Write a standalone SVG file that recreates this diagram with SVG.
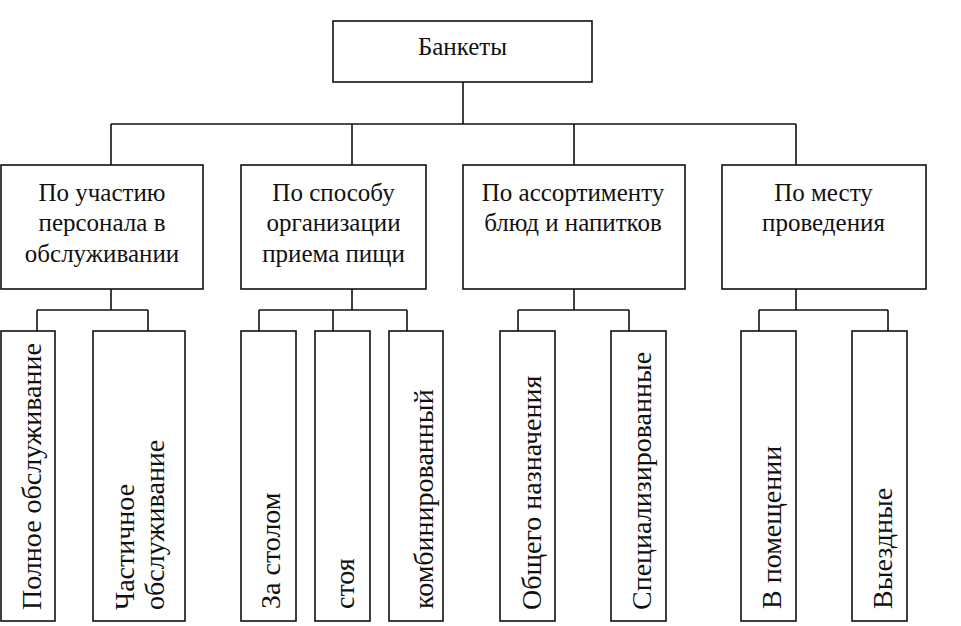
<svg xmlns="http://www.w3.org/2000/svg" width="961" height="626" viewBox="0 0 961 626">
<style>
.box{fill:#fff;stroke:#111;stroke-width:1.6}
.ln{fill:none;stroke:#111;stroke-width:1.6}
</style>
<rect width="961" height="626" fill="#fff"/>
<g id="connectors">
<path class="ln" d="M463 82V124M111 124H796M111 124V165M352 124V165M574 124V165M796 124V165"/>
<path class="ln" d="M111 289V310M37 310H148M37 310V331M148 310V331"/>
<path class="ln" d="M352 289V310M259 310H407M259 310V331M333 310V331M407 310V331"/>
<path class="ln" d="M574 289V310M518 310H629M518 310V331M629 310V331"/>
<path class="ln" d="M796 289V310M759 310H888M759 310V331M888 310V331"/>
</g>
<g font-family="Liberation Serif" font-size="25" text-anchor="middle" fill="#111" style="font-family:'Liberation Serif',serif">
<g id="root"><rect class="box" x="333" y="21" width="259" height="61"/><text x="462.5" y="55">Банкеты</text></g>
<g id="cat1"><rect class="box" x="1" y="165" width="202" height="124"/><text x="102" y="200.5">По участию</text><text x="102" y="231">персонала в</text><text x="102" y="261.5">обслуживании</text></g>
<g id="cat2"><rect class="box" x="241" y="165" width="185" height="124"/><text x="333.5" y="200.5">По способу</text><text x="333.5" y="231">организации</text><text x="333.5" y="261.5">приема пищи</text></g>
<g id="cat3"><rect class="box" x="463" y="165" width="222" height="124"/><text x="573" y="200.5">По ассортименту</text><text x="573" y="231">блюд и напитков</text></g>
<g id="cat4"><rect class="box" x="722" y="165" width="204" height="124"/><text x="823.5" y="200.5">По месту</text><text x="823.5" y="231">проведения</text></g>
</g>
<g font-family="Liberation Serif" font-size="28" text-anchor="start" fill="#111" style="font-family:'Liberation Serif',serif">
<g id="s1"><rect class="box" x="1" y="331" width="54" height="290"/><text transform="translate(41,610) rotate(-90)">Полное обслуживание</text></g>
<g id="s2"><rect class="box" x="93" y="331" width="92" height="290"/><text transform="translate(134,610) rotate(-90)">Частичное</text><text transform="translate(164,610) rotate(-90)">обслуживание</text></g>
<g id="s3"><rect class="box" x="241" y="331" width="55" height="290"/><text transform="translate(280,609) rotate(-90)">За столом</text></g>
<g id="s4"><rect class="box" x="315" y="331" width="55" height="290"/><text transform="translate(354,609) rotate(-90)">стоя</text></g>
<g id="s5"><rect class="box" x="389" y="331" width="54" height="290"/><text transform="translate(433,609) rotate(-90)">комбинированный</text></g>
<g id="s6"><rect class="box" x="500" y="331" width="55" height="290"/><text transform="translate(541,610) rotate(-90)">Общего назначения</text></g>
<g id="s7"><rect class="box" x="611" y="331" width="55" height="290"/><text transform="translate(651,610) rotate(-90)">Специализированные</text></g>
<g id="s8"><rect class="box" x="741" y="331" width="55" height="290"/><text transform="translate(781,609) rotate(-90)">В помещении</text></g>
<g id="s9"><rect class="box" x="852" y="331" width="55" height="290"/><text transform="translate(892,609) rotate(-90)">Выездные</text></g>
</g>
</svg>
